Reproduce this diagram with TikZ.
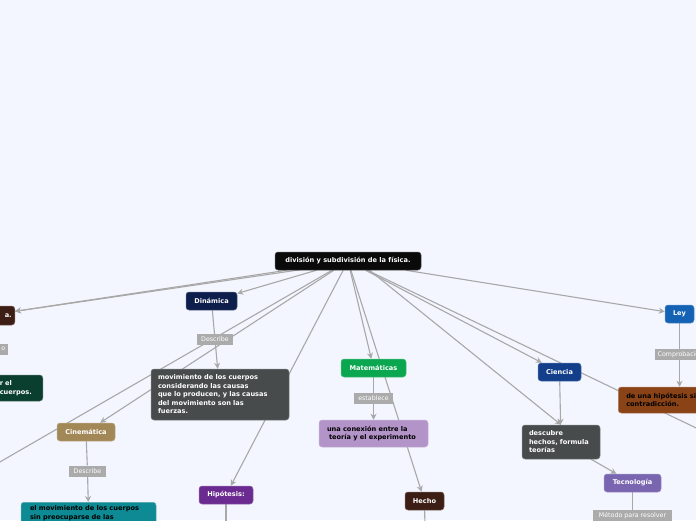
\documentclass[tikz,border=0pt]{standalone}
\usepackage{fontspec}
\setmainfont{DejaVu Sans}
\usetikzlibrary{arrows.meta}

\pgfdeclarelayer{bg}
\pgfdeclarelayer{edges}
\pgfsetlayers{bg,edges,main}

\definecolor{bgC}{HTML}{F3F6FE}
\definecolor{edgeC}{HTML}{A8A8A8}
\definecolor{lblC}{HTML}{ABABAB}
\definecolor{rootC}{HTML}{0A0A0A}
\definecolor{darkBrownC}{HTML}{3C1E14}
\definecolor{navyC}{HTML}{0D1E4C}
\definecolor{slateC}{HTML}{474B4B}
\definecolor{tanC}{HTML}{A38857}
\definecolor{tealC}{HTML}{0D8A93}
\definecolor{purpleC}{HTML}{6B2A8F}
\definecolor{greenC}{HTML}{0AA650}
\definecolor{lilacC}{HTML}{B394C8}
\definecolor{blueC}{HTML}{123E8A}
\definecolor{violetC}{HTML}{7A65B0}
\definecolor{skyC}{HTML}{1462B4}
\definecolor{rustC}{HTML}{8A4317}
\definecolor{pineC}{HTML}{0A3E2E}

\tikzset{
  topic/.style={rounded corners=3pt, fill=#1, draw=#1!70!white, line width=0.5pt,
    text=white, font=\fontsize{6.6}{8.5}\selectfont\bfseries,
    inner xsep=7pt, inner ysep=0pt, minimum height=18pt},
  linklbl/.style={fill=lblC, text=white, font=\fontsize{6.3}{7}\selectfont,
    inner xsep=2.5pt, inner ysep=0pt, minimum height=11pt},
  conn/.style={draw=edgeC, line width=1.1pt},
  arr/.style={conn, -{Stealth[length=6pt,width=6pt]}},
}

\begin{document}
\begin{tikzpicture}[x=1pt,y=-1pt]
    \useasboundingbox (0,0) rectangle (696,520);
    \begin{pgfonlayer}{bg}
        \fill[bgC] (0,0) rectangle (696,520);
    \end{pgfonlayer}

    % central topic
    \node[topic=rootC, minimum width=146pt] (root) at (348,261) {división y subdivisión de la física.};

    % left branch (cut off by the page)
    \node[topic=darkBrownC, anchor=east, text width=50pt, align=right, inner xsep=3pt, minimum height=19pt] (leftTopic) at (15,315.5) {a.};
    \node[linklbl, anchor=east, text width=30pt, align=right] (leftLbl) at (8,349) {o};
    \node[topic=pineC, anchor=east, text width=35pt, align=left, inner xsep=8pt, minimum height=26pt] (leftDesc) at (43,388) {r el\\ cuerpos.};
    \coordinate (offLeft) at (-40,485);

    % Dinámica
    \node[topic=navyC, minimum width=51pt] (dinamica) at (211.5,301) {Dinámica};
    \node[linklbl, minimum width=36pt] (dinLbl) at (215,339.5) {Describe};
    \node[topic=slateC, text width=124pt, align=left, inner ysep=4pt, minimum height=51pt] (dinDesc) at (220,394.5)
        {movimiento de los cuerpos\\considerando las causas\\que lo producen, y las causas\\del movimiento son las\\fuerzas.};

    % Cinemática
    \node[topic=tanC, minimum width=58pt] (cinematica) at (86,432) {Cinemática};
    \node[linklbl, minimum width=37pt] (cinLbl) at (87.5,471) {Describe};
    \node[topic=tealC, text=black, anchor=north, text width=117pt, align=left, inner xsep=9pt, inner ysep=3pt,
        font=\fontsize{6.6}{9.5}\selectfont\bfseries] (cinDesc) at (88.5,502)
        {el movimiento de los cuerpos\\sin preocuparse de las};

    % Hipótesis
    \node[topic=purpleC, minimum width=54pt] (hipotesis) at (226,495) {Hipótesis:};
    \coordinate (hipEnd) at (226,530);

    % Matemáticas
    \node[topic=greenC, minimum width=65pt] (matematicas) at (373.5,368) {Matemáticas};
    \node[linklbl, minimum width=39pt] (matLbl) at (373.5,398.5) {establece};
    \node[topic=lilacC, text=black, text width=93pt, align=left, inner xsep=8pt, minimum height=27pt] (matDesc) at (373.5,433.5)
        {una conexión entre la\\\hspace*{2pt}teoría y el experimento};

    % Hecho
    \node[topic=darkBrownC, minimum width=39pt] (hecho) at (424.5,501) {Hecho};
    \coordinate (hechoEnd) at (425,530);

    % Ciencia
    \node[topic=blueC, minimum width=43pt] (ciencia) at (559.5,372) {Ciencia};
    \node[topic=slateC, text width=64pt, align=left, inner ysep=4pt, minimum height=34pt] (cienDesc) at (561,442)
        {descubre\\hechos, formula\\teorías};
    \node[topic=violetC, minimum width=57pt] (tecnologia) at (632.5,483) {Tecnología};
    \node[linklbl, minimum width=79pt, minimum height=12pt] (tecLbl) at (632.5,516) {Método para resolver};

    % Ley
    \node[topic=skyC, minimum width=29pt] (ley) at (679.5,314) {Ley};
    \node[linklbl, anchor=west] (leyLbl) at (655,354.5) {Comprobación};
    \node[topic=rustC, text=black, anchor=west, text width=104pt, align=left, inner xsep=8pt, minimum height=26pt] (leyDesc) at (618,400)
        {de una hipótesis sin\\contradicción.};
    \coordinate (offRight) at (740,449);

    % connectors
    \begin{pgfonlayer}{edges}
        \draw[arr] (root) -- (leftTopic);
        \draw[arr] ([xshift=12pt]root.center) -- (leftTopic);
        \draw[conn] (leftTopic.south) -- (leftTopic.south |- leftLbl.north);
        \draw[arr] (leftTopic.south |- leftLbl.south) -- (leftTopic.south |- leftDesc.north);
        \draw[conn] (root) -- (offLeft);

        \draw[arr] (root) -- (dinamica);
        \draw[conn] (dinamica) -- (dinLbl);
        \draw[arr] (dinLbl) -- (dinDesc);

        \draw[arr] (root) -- (cinematica);
        \draw[conn] (cinematica) -- (cinLbl);
        \draw[arr] (cinLbl) -- (cinDesc);

        \draw[arr] (root) -- (hipotesis);
        \draw[conn] (hipotesis) -- (hipEnd);

        \draw[arr] (root) -- (matematicas);
        \draw[conn] (matematicas) -- (matLbl);
        \draw[arr] (matLbl) -- (matDesc);

        \draw[arr] (root) -- (hecho);
        \draw[conn] (hecho) -- (hechoEnd);

        \draw[arr] (root) -- (ciencia);
        \draw[arr] ([xshift=10pt]root.center) -- (cienDesc.north);
        \draw[arr] (ciencia) -- (cienDesc);
        \draw[arr] (cienDesc) -- (tecnologia);
        \draw[conn] (tecnologia) -- (tecLbl);

        \draw[arr] (root) -- (ley);
        \draw[conn] (ley) -- (ley |- leyLbl.north);
        \draw[arr] (ley |- leyLbl.south) -- (ley |- leyDesc.north);
        \draw[conn] (root) -- (offRight);
    \end{pgfonlayer}
\end{tikzpicture}
\end{document}
